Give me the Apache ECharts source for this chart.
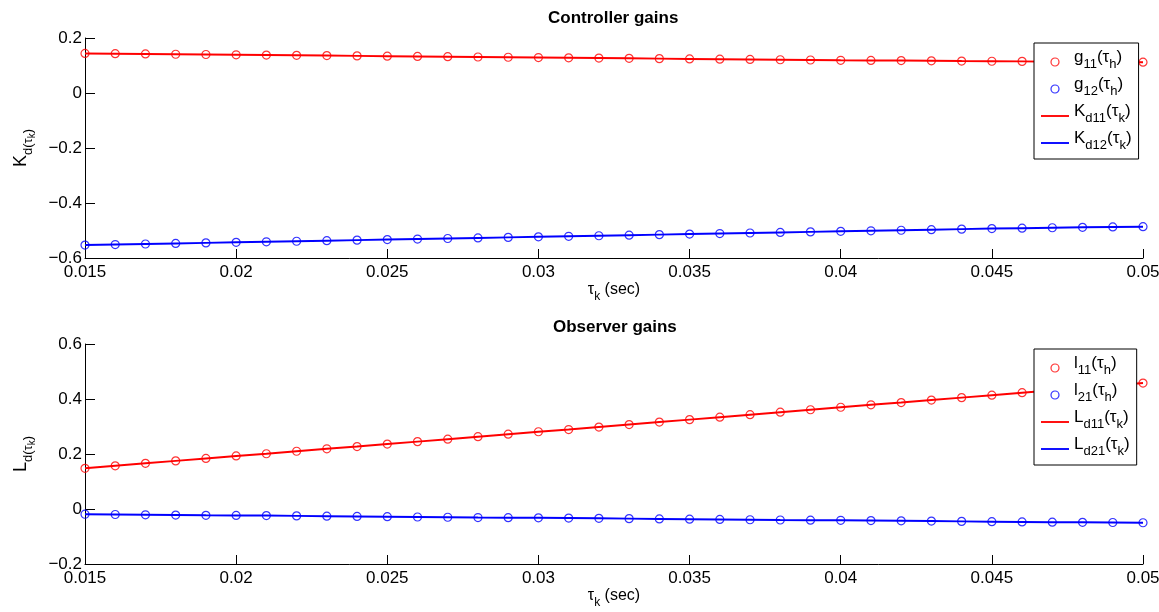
<!DOCTYPE html>
<html>
<head>
<meta charset="utf-8">
<title>Controller and observer gains</title>
<script src="https://cdn.jsdelivr.net/npm/echarts@6/dist/echarts.min.js"></script>
<style>
  html, body { margin: 0; padding: 0; background: #fff; }
  #chart { width: 1159px; height: 612px; }
</style>
</head>
<body>
<div id="chart"></div>
<script>
// delay values tau (sec), one sample per marker
const tau = [0.015, 0.016, 0.017, 0.018, 0.019, 0.020, 0.021, 0.022, 0.023, 0.024,
  0.025, 0.026, 0.027, 0.028, 0.029, 0.030, 0.031, 0.032, 0.033, 0.034,
  0.035, 0.036, 0.037, 0.038, 0.039, 0.040, 0.041, 0.042, 0.043, 0.044,
  0.045, 0.046, 0.047, 0.048, 0.049, 0.050];

// controller gains (top plot)
const g11 = [0.144, 0.143, 0.142, 0.141, 0.140, 0.139, 0.138, 0.137, 0.136, 0.135,
  0.134, 0.133, 0.132, 0.131, 0.130, 0.129, 0.128, 0.127, 0.126, 0.125,
  0.124, 0.123, 0.122, 0.121, 0.120, 0.119, 0.1185, 0.118, 0.117, 0.116,
  0.1155, 0.115, 0.114, 0.113, 0.1125, 0.112];
const g12 = [-0.553, -0.551, -0.549, -0.547, -0.545, -0.543, -0.541, -0.539, -0.537, -0.535,
  -0.533, -0.531, -0.529, -0.527, -0.525, -0.523, -0.521, -0.519, -0.517, -0.515,
  -0.513, -0.511, -0.509, -0.507, -0.505, -0.503, -0.501, -0.499, -0.497, -0.495,
  -0.493, -0.4915, -0.490, -0.4885, -0.487, -0.486];

// observer gains (bottom plot)
const l11 = [0.148, 0.157, 0.166, 0.175, 0.184, 0.193, 0.201, 0.210, 0.219, 0.227,
  0.236, 0.245, 0.254, 0.263, 0.272, 0.281, 0.289, 0.298, 0.307, 0.316,
  0.325, 0.334, 0.343, 0.352, 0.361, 0.370, 0.379, 0.387, 0.396, 0.405,
  0.414, 0.423, 0.432, 0.440, 0.449, 0.458];
const l21 = [-0.019, -0.020, -0.021, -0.022, -0.023, -0.0235, -0.024, -0.025, -0.026, -0.027,
  -0.028, -0.029, -0.030, -0.031, -0.0315, -0.032, -0.033, -0.034, -0.035, -0.036,
  -0.037, -0.038, -0.039, -0.040, -0.0405, -0.041, -0.042, -0.043, -0.044, -0.045,
  -0.046, -0.047, -0.048, -0.0485, -0.049, -0.050];

// tick labels
const xTicks = ['0.015', '0.02', '0.025', '0.03', '0.035', '0.04', '0.045', '0.05'];
const yTicksTop = [-0.6, -0.4, -0.2, 0, 0.2];
const yTicksBottom = [-0.2, 0, 0.2, 0.4, 0.6];

const RED = '#ff0000';
const BLUE = '#0000ff';
const FONT = '"Liberation Sans", Arial, Helvetica, sans-serif';

const pairs = (ys) => tau.map((t, i) => [t, ys[i]]);
const fmt = (v) => String(+(+v).toFixed(3)).replace('-', '\u2212');

// rich text styles for subscripts (base text raised, subscripts on the line bottom)
const richLegend = {
  n: { fontSize: 17, lineHeight: 18, padding: [0, 0, 5, 0], verticalAlign: 'bottom', fontFamily: FONT, color: '#000' },
  s: { fontSize: 13, lineHeight: 14, verticalAlign: 'bottom', fontFamily: FONT, color: '#000' }
};
const richXName = {
  n: { fontSize: 16, lineHeight: 17, padding: [0, 0, 5, 0], verticalAlign: 'bottom', fontFamily: FONT, color: '#000' },
  s: { fontSize: 12, lineHeight: 13, verticalAlign: 'bottom', fontFamily: FONT, color: '#000' }
};
const richYName = {
  n: { fontSize: 18, lineHeight: 19, padding: [0, 0, 8, 0], verticalAlign: 'bottom', fontFamily: FONT, color: '#000' },
  s: { fontSize: 13, lineHeight: 14, padding: [0, 0, 3, 0], verticalAlign: 'bottom', fontFamily: FONT, color: '#000' },
  ss: { fontSize: 10, lineHeight: 11, verticalAlign: 'bottom', fontFamily: FONT, color: '#000' }
};

const legendText = {
  g11: '{n|g}{s|11}{n|(\u03c4}{s|h}{n|)}',
  g12: '{n|g}{s|12}{n|(\u03c4}{s|h}{n|)}',
  Kd11: '{n|K}{s|d11}{n|(\u03c4}{s|k}{n|)}',
  Kd12: '{n|K}{s|d12}{n|(\u03c4}{s|k}{n|)}',
  l11: '{n|l}{s|11}{n|(\u03c4}{s|h}{n|)}',
  l21: '{n|l}{s|21}{n|(\u03c4}{s|h}{n|)}',
  Ld11: '{n|L}{s|d11}{n|(\u03c4}{s|k}{n|)}',
  Ld21: '{n|L}{s|d21}{n|(\u03c4}{s|k}{n|)}'
};

const makeXAxis = (gridIndex) => ({
  type: 'value',
  gridIndex: gridIndex,
  min: 0.015,
  max: 0.05,
  interval: 0.005,
  name: '{n|\u03c4}{s|k}{n| (sec)}',
  nameLocation: 'middle',
  nameGap: 24,
  nameTextStyle: { rich: richXName },
  axisLine: { onZero: false, lineStyle: { color: '#000', width: 1 } },
  axisTick: { inside: true, length: 9, lineStyle: { color: '#000' } },
  axisLabel: {
    fontSize: 17, fontFamily: FONT, color: '#000', margin: 6,
    formatter: (v) => xTicks.find((t) => Math.abs(+t - v) < 1e-9) || fmt(v)
  },
  splitLine: { show: false }
});

const makeYAxis = (gridIndex, ticks, nameStr) => ({
  type: 'value',
  gridIndex: gridIndex,
  min: ticks[0],
  max: ticks[ticks.length - 1],
  interval: 0.2,
  name: nameStr,
  nameLocation: 'middle',
  nameRotate: 90,
  nameGap: 41,
  nameTextStyle: { rich: richYName },
  axisLine: { lineStyle: { color: '#000', width: 1 } },
  axisTick: { inside: true, length: 10, lineStyle: { color: '#000' } },
  axisLabel: { fontSize: 17, fontFamily: FONT, color: '#000', margin: 3, formatter: fmt },
  splitLine: { show: false }
});

const markers = (name, ys, color, idx) => ({
  name: name,
  type: 'scatter',
  xAxisIndex: idx,
  yAxisIndex: idx,
  data: pairs(ys),
  symbol: 'circle',
  symbolSize: 8,
  itemStyle: { color: 'rgba(255,255,255,0)', borderColor: color, borderWidth: 1.2 },
  z: 2
});

const curve = (name, ys, color, idx) => ({
  name: name,
  type: 'line',
  xAxisIndex: idx,
  yAxisIndex: idx,
  data: pairs(ys),
  symbol: 'none',
  showSymbol: false,
  lineStyle: { color: color, width: 2 },
  itemStyle: { color: color },
  z: 3
});

// hollow circle for sampled gains, plain bar for the fitted curves
const legendItem = (name, color, hollow) => hollow
  ? { name: name, icon: 'circle', itemStyle: { color: '#fff', borderColor: color, borderWidth: 1.2 } }
  : { name: name, icon: 'path://M0,0H30V2H0Z', itemStyle: { color: color, borderWidth: 0 } };

const makeLegend = (top, names, colors) => ({
  orient: 'vertical',
  left: 1034,
  top: top,
  padding: [6, 7, 7, 7],
  itemGap: 5,
  itemWidth: 28,
  itemHeight: 8,
  backgroundColor: '#fff',
  borderColor: '#000',
  borderWidth: 1,
  borderRadius: 0,
  selectedMode: false,
  data: names.map((n, i) => legendItem(n, colors[i], i < 2)),
  formatter: (name) => legendText[name],
  textStyle: { rich: richLegend }
});

const titleStyle = { fontSize: 17, fontWeight: 'bold', fontFamily: FONT, color: '#000' };

const chart = echarts.init(document.getElementById('chart'), null, { renderer: 'canvas' });

const option = {
  backgroundColor: '#fff',
  animation: false,
  title: [
    { text: 'Controller gains', left: 548, top: 10, padding: 0, textStyle: titleStyle },
    { text: 'Observer gains', left: 553, top: 319, padding: 0, textStyle: titleStyle }
  ],
  legend: [
    makeLegend(43, ['g11', 'g12', 'Kd11', 'Kd12'], [RED, BLUE, RED, BLUE]),
    makeLegend(349, ['l11', 'l21', 'Ld11', 'Ld21'], [RED, BLUE, RED, BLUE])
  ],
  // fixed plot boxes; the last tick label is allowed to run off the page edge
  grid: [
    { left: 85, right: 16, top: 38, height: 220, outerBoundsMode: 'none' },
    { left: 85, right: 16, top: 344, height: 220, outerBoundsMode: 'none' }
  ],
  xAxis: [makeXAxis(0), makeXAxis(1)],
  yAxis: [
    makeYAxis(0, yTicksTop, '{n|K}{s|d(\u03c4}{ss|k}{s|)}'),
    makeYAxis(1, yTicksBottom, '{n|L}{s|d(\u03c4}{ss|k}{s|)}')
  ],
  series: [
    markers('g11', g11, RED, 0),
    markers('g12', g12, BLUE, 0),
    curve('Kd11', g11, RED, 0),
    curve('Kd12', g12, BLUE, 0),
    markers('l11', l11, RED, 1),
    markers('l21', l21, BLUE, 1),
    curve('Ld11', l11, RED, 1),
    curve('Ld21', l21, BLUE, 1)
  ]
};

chart.setOption(option);
</script>
</body>
</html>
